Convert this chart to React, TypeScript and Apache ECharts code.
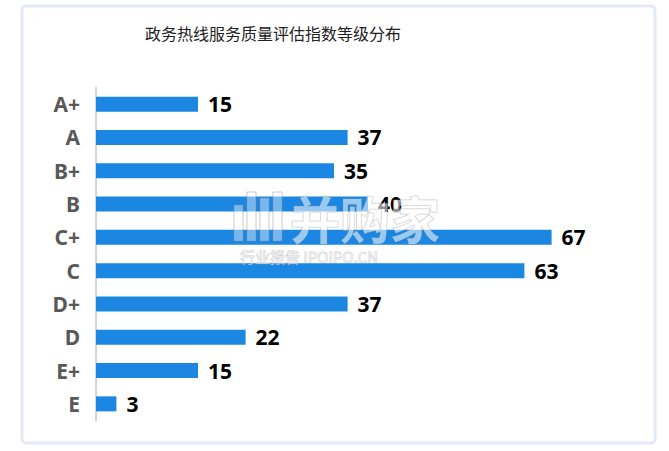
import React, { useEffect, useRef } from "react";
import * as echarts from "echarts";

const categories = ["A+", "A", "B+", "B", "C+", "C", "D+", "D", "E+", "E"];
const values = [15, 37, 35, 40, 67, 63, 37, 22, 15, 3];
const title = "政务热线服务质量评估指数等级分布";

export default function App() {
  const ref = useRef<HTMLDivElement>(null);
  useEffect(() => {
    const chart = echarts.init(ref.current!, null, { renderer: "svg" });
    const wmStroke = "rgba(140,140,140,0.45)";
    chart.setOption({
      animation: false,
      backgroundColor: "#ffffff",
      title: {
        text: title,
        left: 140,
        top: 20,
        textStyle: { fontFamily: "Noto Sans CJK SC", fontSize: 16, fontWeight: "normal", color: "#222" },
      },
      graphic: [
        {
          type: "rect",
          shape: { x: 22, y: 6, width: 633, height: 437, r: 4 },
          style: { fill: "none", stroke: "#e3e9f6", lineWidth: 3 },
          z: -1,
        },
        { type: "rect", shape: { x: 234, y: 205, width: 9, height: 36 }, style: { fill: "rgba(255,255,255,0.4)", stroke: wmStroke, lineWidth: 1 }, z: 100 },
        { type: "rect", shape: { x: 247, y: 192, width: 9, height: 49 }, style: { fill: "rgba(255,255,255,0.4)", stroke: wmStroke, lineWidth: 1 }, z: 100 },
        { type: "rect", shape: { x: 260, y: 198, width: 9, height: 43 }, style: { fill: "rgba(255,255,255,0.4)", stroke: wmStroke, lineWidth: 1 }, z: 100 },
        { type: "rect", shape: { x: 273, y: 192, width: 9, height: 49 }, style: { fill: "rgba(255,255,255,0.4)", stroke: wmStroke, lineWidth: 1 }, z: 100 },
        {
          type: "text",
          x: 290,
          y: 217,
          style: { text: "并购家", fontSize: 50, lineHeight: 50, verticalAlign: "middle", fontFamily: "Noto Sans CJK SC", fontWeight: "bold", fill: "rgba(255,255,255,0.55)", stroke: wmStroke, lineWidth: 1 },
          z: 100,
        },
        {
          type: "text",
          x: 240,
          y: 256,
          style: { text: "行业报告 IPOIPO.CN", fontSize: 15, lineHeight: 15, verticalAlign: "middle", fontFamily: "Noto Sans CJK SC", fill: "rgba(255,255,255,0.5)", stroke: wmStroke, lineWidth: 0.8 },
          z: 100,
        },
      ],
      grid: { left: 96, top: 87.5, width: 544, height: 333, containLabel: false },
      xAxis: {
        type: "value",
        min: 0,
        max: 80,
        show: false,
      },
      yAxis: {
        type: "category",
        data: categories,
        inverse: true,
        axisLine: { show: true, lineStyle: { color: "#d4d4d4", width: 2 } },
        axisTick: { show: false },
        axisLabel: {
          margin: 16,
          fontFamily: "Noto Sans",
          fontSize: 21,
          fontWeight: "bold",
          color: "#595959",
        },
      },
      series: [
        {
          type: "bar",
          data: values,
          barWidth: 15,
          itemStyle: { color: "#1b87e3" },
          label: {
            show: true,
            position: "right",
            distance: 10,
            fontFamily: "Noto Sans",
            fontSize: 21,
            fontWeight: "bold",
            color: "#000",
          },
        },
      ],
    });
    return () => chart.dispose();
  }, []);
  return <div ref={ref} style={{ width: 669, height: 451, position: "absolute", left: 0, top: 0 }} />;
}
